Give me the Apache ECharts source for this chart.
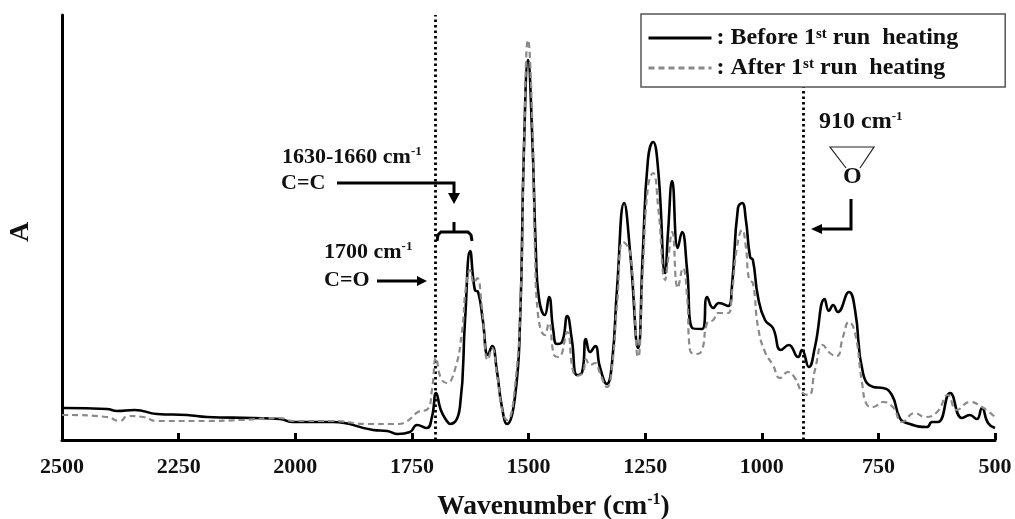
<!DOCTYPE html>
<html><head><meta charset="utf-8">
<style>html,body{margin:0;padding:0;background:#fff}#c{width:1015px;height:519px}</style>
<script src="https://cdn.jsdelivr.net/npm/echarts@6/dist/echarts.min.js"></script>
</head><body><div id="c"></div>
<script>
var seriesNames = ['Before', 'After'];
var wnBefore = [2500,2494,2404,2382,2344,2296,2232,2189,2091,2033,2005,1919,1833,1803,1780,1754,1739,1718,1707,1698,1688,1675,1668,1647,1636,1625,1615,1608,1598,1587,1578,1568,1557,1546,1529,1518,1510,1501,1492,1484,1478,1465,1456,1447,1439,1428,1417,1407,1396,1385,1377,1368,1357,1347,1332,1321,1310,1295,1282,1265,1255,1244,1233,1222,1207,1201,1192,1180,1171,1160,1149,1128,1117,1104,1092,1072,1064,1051,1042,1034,1025,1019,1008,993,976,959,942,922,914,899,886,865,856,847,837,813,800,783,761,740,721,704,689,646,635,622,596,571,554,539,528,515,500];
var absBefore = [32,32,31,29,30,26,25,23,22,21,18,18,10,9,6,8,15,12,23,47,30,19,16,33,120,189,150,148,120,85,94,70,33,16,43,120,287,380,303,187,143,125,143,110,96,98,124,100,65,68,101,88,94,73,56,77,153,237,187,92,187,280,298,270,167,207,259,192,208,170,112,111,143,132,137,134,153,232,237,220,183,180,143,120,112,90,95,83,90,73,93,141,129,135,128,148,130,67,53,52,45,22,17,13,18,18,47,22,25,21,32,17,12];
var wnAfter = [2500,2494,2404,2376,2359,2326,2296,2189,2118,2033,2005,1919,1846,1780,1760,1737,1716,1707,1698,1688,1675,1658,1643,1634,1625,1617,1610,1600,1587,1578,1568,1555,1546,1529,1516,1510,1501,1492,1486,1480,1465,1456,1445,1435,1417,1405,1396,1383,1377,1368,1357,1347,1332,1321,1310,1297,1282,1265,1255,1244,1233,1222,1207,1201,1192,1180,1169,1160,1154,1139,1128,1117,1104,1094,1072,1064,1053,1042,1034,1027,1019,1008,993,976,961,944,929,912,899,886,869,854,839,826,813,800,785,774,761,740,719,699,672,650,624,601,582,554,528,500];
var absAfter = [25,25,23,19,24,23,19,19,20,22,19,19,16,16,19,28,31,50,82,62,57,70,107,153,170,157,162,133,80,92,67,27,20,53,153,287,400,320,187,127,105,117,85,83,108,70,64,68,81,75,77,67,53,73,137,198,187,83,170,253,267,233,160,180,208,152,172,143,90,86,90,117,120,127,127,147,193,210,193,160,157,113,88,75,62,68,62,47,45,70,95,87,84,103,118,107,57,35,33,38,33,18,27,23,28,45,30,38,33,23];
var xMin = 500, xMax = 2500, xStep = 250;
var referenceLines = [1700, 910];

function zip(a, b) { return a.map(function (v, i) { return [v, b[i]]; }); }

var serif = '"Liberation Serif","Times New Roman",serif';
function label(x, y, text, size) {
  var r = {
    t: { fontFamily: serif, fontWeight: 'bold', fontSize: size || 22, fill: '#111', lineHeight: 24 },
    s: { fontFamily: serif, fontWeight: 'bold', fontSize: 13, fill: '#111', verticalAlign: 'top', lineHeight: 24 }
  };
  return { type: 'text', x: x, y: y, z: 30, silent: true, style: { text: text, rich: r, verticalAlign: 'middle' } };
}
function stroke(points, w, col) {
  return { type: 'polyline', z: 30, silent: true, shape: { points: points }, style: { stroke: col || '#000', lineWidth: w, fill: null } };
}
function head(points) {
  return { type: 'polygon', z: 30, silent: true, shape: { points: points }, style: { fill: '#000' } };
}

var chart = echarts.init(document.getElementById('c'), null, { renderer: 'canvas' });
chart.setOption({
  animation: false,
  backgroundColor: '#fff',
  grid: { left: 62, right: 20, top: 15, bottom: 79, outerBoundsMode: 'none' },
  legend: {
    left: 641, top: 14, orient: 'vertical', z: 20,
    padding: [12, 47, 7, 6], itemGap: 6, itemWidth: 63, itemHeight: 14,
    borderColor: '#555', borderWidth: 1.5, backgroundColor: '#fff', selectedMode: false,
    itemStyle: { opacity: 0 }, lineStyle: { width: 3 },
    data: seriesNames,
    formatter: function (n) { return '{t|: ' + n + ' 1}{s|st}{t| run  heating}'; },
    textStyle: { rich: {
      t: { fontFamily: serif, fontWeight: 'bold', fontSize: 24, color: '#111', lineHeight: 23 },
      s: { fontFamily: serif, fontWeight: 'bold', fontSize: 15, color: '#111', verticalAlign: 'top', lineHeight: 15 }
    } }
  },
  xAxis: {
    type: 'value', inverse: true, min: xMin, max: xMax, interval: xStep,
    axisLine: { onZero: false, lineStyle: { color: '#000', width: 3 } },
    axisTick: { inside: true, length: 7, lineStyle: { color: '#000', width: 3 } },
    splitLine: { show: false },
    axisLabel: { margin: 16, color: '#111', fontFamily: serif, fontWeight: 'bold', fontSize: 22, hideOverlap: false, formatter: function (v) { return String(v); } },
    name: '{t|Wavenumber (cm}{s|-1}{t|)}', nameLocation: 'center', nameGap: 52,
    nameTextStyle: { padding: [0, 0, 0, 50], rich: {
      t: { fontFamily: serif, fontWeight: 'bold', fontSize: 27.5, color: '#111', lineHeight: 30 },
      s: { fontFamily: serif, fontWeight: 'bold', fontSize: 16, color: '#111', verticalAlign: 'top', lineHeight: 18 }
    } }
  },
  yAxis: {
    type: 'value', min: 0, max: 425,
    axisLine: { show: true, onZero: false, lineStyle: { color: '#000', width: 3 } },
    axisTick: { show: false }, axisLabel: { show: false }, splitLine: { show: false },
    name: 'A', nameLocation: 'center', nameGap: 27, nameRotate: 90,
    nameTextStyle: { fontFamily: serif, fontWeight: 'bold', fontSize: 28, color: '#111', padding: [0, 9, 0, 0] }
  },
  series: [
    { name: seriesNames[0], type: 'line', data: zip(wnBefore, absBefore), showSymbol: false, symbol: 'none',
      smooth: 0.5, lineStyle: { color: '#000', width: 2.6 }, itemStyle: { color: '#000' }, z: 2,
      markLine: { silent: true, symbol: 'none', label: { show: false }, animation: false, z: 1,
        lineStyle: { color: '#000', type: [2.5, 3], width: 2.8 },
        data: referenceLines.map(function (v) { return { xAxis: v }; }) } },
    { name: seriesNames[1], type: 'line', data: zip(wnAfter, absAfter), showSymbol: false, symbol: 'none',
      smooth: 0.5, lineStyle: { color: '#8a8a8a', width: 2.2, type: [6, 4] }, itemStyle: { color: '#8a8a8a' }, z: 3 }
  ],
  graphic: { elements: [
    label(282, 157, '{t|1630-1660 cm}{s|-1}'),
    label(281, 183, '{t|C=C}'),
    stroke([[337, 183], [454, 183], [454, 194]], 3),
    head([[448, 193], [460, 193], [454, 204]]),
    stroke([[437, 241], [438, 235], [441, 232], [468, 232], [471, 235], [472, 241]], 3),
    stroke([[454, 222], [454, 232]], 3),
    label(324, 252, '{t|1700 cm}{s|-1}'),
    label(324, 280, '{t|C=O}'),
    stroke([[377, 281], [418, 281]], 3),
    head([[417, 276], [427, 281], [417, 286]]),
    label(819, 122, '{t|910 cm}{s|-1}', 24),
    stroke([[846, 168], [830, 147], [874, 147], [860, 168]], 1.2, '#222'),
    label(843, 177, '{t|O}', 24),
    stroke([[851, 199], [851, 229], [820, 229]], 3),
    head([[822, 224], [811, 229], [822, 234]])
  ] }
});
</script></body></html>
